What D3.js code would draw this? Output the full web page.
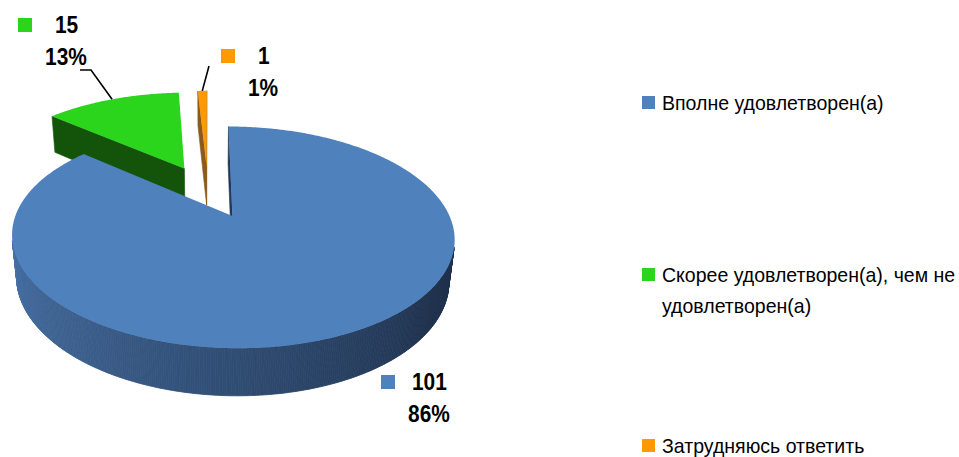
<!DOCTYPE html>
<html>
<head>
<meta charset="utf-8">
<script src="https://cdn.jsdelivr.net/npm/d3@7"></script>
<style>
  body { margin: 0; background: #ffffff; }
  svg { display: block; }
  .narrow { font-family: "Liberation Sans Narrow", "Arial Narrow", "Liberation Sans", Arial, sans-serif; }
</style>
</head>
<body>
<svg id="chart" width="959" height="457"></svg>
<script>
// Survey answers and counts
const categories = [
  "Вполне удовлетворен(а)",
  "Скорее удовлетворен(а), чем не удовлетворен(а)",
  "Затрудняюсь ответить"
];
const values = [101, 15, 1];

// Slice colours: top face, side shading (light -> dark), radial face
const topColors   = ["#4f81bd", "#2bd51b", "#ff9900"];
const sideLight   = ["#4b77ae", "#1a6410", "#a86a1c"];
const sideMid     = ["#2f4c72", "#14540a", "#8b5a1a"];
const sideDark    = ["#1f314d", "#0f4607", "#6e4612"];
const faceColors  = ["#22385a", "#14540a", "#8b5a1a"];

// Legend text, split into lines
const legendLines = [
  ["Вполне удовлетворен(а)"],
  ["Скорее удовлетворен(а), чем не", "удовлетворен(а)"],
  ["Затрудняюсь ответить"]
];

const svg = d3.select("#chart");
const total = d3.sum(values);
const pct = d3.format(".0%");

// ---- 3D projection of the pie (radius 1, top face at Y = 0) ----
const view = { tilt: 28 * Math.PI / 180, dist: 4.8, focal: 995, cx: 208, cy: 191 };
const explode = 0.27;
const thickness = 0.225;
const sT = Math.sin(view.tilt), cT = Math.cos(view.tilt);
const camPos = { x: 0, y: view.dist * sT, z: view.dist * cT };

function project(X, Y, Z) {
  const yc = Y * cT - Z * sT;
  const depth = view.dist - Y * sT - Z * cT;
  return [view.cx + view.focal * X / depth, view.cy - view.focal * yc / depth];
}

const arcs = d3.pie().sort(null).value(d => d)(values)
  .map((a, i) => {
    const mid = (a.startAngle + a.endAngle) / 2;
    return { ...a, i, mid, ox: explode * Math.sin(mid), oz: -explode * Math.cos(mid) };
  });

// world point on a slice
function pt(a, ang, r, Y) {
  return project(a.ox + r * Math.sin(ang), Y, a.oz - r * Math.cos(ang));
}
function arcAngles(a0, a1) {
  const n = Math.max(2, Math.ceil((a1 - a0) / (Math.PI / 360)));
  return d3.range(n + 1).map(k => a0 + (a1 - a0) * k / n);
}
const line = d3.line();

const pieG = svg.append("g");

// farther slices first
const order = arcs.slice().sort((p, q) => p.oz - q.oz);

order.forEach(a => {
  const g = pieG.append("g");
  const i = a.i;
  const apexTop = pt(a, 0, 0, 0), apexBot = pt(a, 0, 0, -thickness);

  // radial side faces
  [[a.startAngle, -1], [a.endAngle, 1]].forEach(([ang, sgn]) => {
    const nAng = ang + sgn * Math.PI / 2;
    const nx = Math.sin(nAng), nz = -Math.cos(nAng);
    const px = a.ox + 0.5 * Math.sin(ang), pz = a.oz - 0.5 * Math.cos(ang);
    const vis = nx * (camPos.x - px) + nz * (camPos.z - pz);
    if (vis > 0) {
      const rimT = pt(a, ang, 1, 0), rimB = pt(a, ang, 1, -thickness);
      g.append("path")
        .attr("d", line([apexTop, rimT, rimB, apexBot]) + "Z")
        .attr("fill", faceColors[i])
        .attr("stroke", faceColors[i]).attr("stroke-width", 0.6).attr("stroke-linejoin", "round");
    }
  });

  // outer curved wall, shaded by facing direction
  const shade = d3.scaleLinear()
    .domain([1.5 * Math.PI, Math.PI, 0.7 * Math.PI, 0.5 * Math.PI])
    .range([sideLight[i], sideMid[i], sideDark[i], sideDark[i]])
    .interpolate(d3.interpolateRgb)
    .clamp(true);
  const angs = arcAngles(a.startAngle, a.endAngle);
  for (let k = 0; k < angs.length - 1; k++) {
    const a0 = angs[k], a1 = angs[k + 1], am = (a0 + a1) / 2;
    const nx = Math.sin(am), nz = -Math.cos(am);
    const px = a.ox + nx, pz = a.oz + nz;
    const vis = nx * (camPos.x - px) + nz * (camPos.z - pz);
    if (vis <= 0) continue;
    const c = shade(am);
    g.append("path")
      .attr("d", line([pt(a, a0, 1, 0), pt(a, a1, 1, 0), pt(a, a1, 1, -thickness), pt(a, a0, 1, -thickness)]) + "Z")
      .attr("fill", c).attr("stroke", c).attr("stroke-width", 0.8);
  }

  // top face
  const topPts = [apexTop].concat(angs.map(ang => pt(a, ang, 1, 0)));
  g.append("path")
    .attr("d", line(topPts) + "Z")
    .attr("fill", topColors[i]);
});

// ---- data labels ----
const labelPos = [
  { mx: 381, my: 375 },   // 101
  { mx: 18,  my: 18 },    // 15
  { mx: 221, my: 49 }     // 1
];
const labelValueDx = [31, 37, 37];
const labelPctDx   = [48, 48, 42];
const labelScaleX = 0.87;

const labG = svg.append("g").attr("class", "narrow");
arcs.forEach((a, i) => {
  const p = labelPos[i];
  labG.append("rect").attr("x", p.mx).attr("y", p.my).attr("width", 14).attr("height", 14)
    .attr("fill", topColors[i]);
  labG.append("text")
    .attr("transform", `translate(${p.mx + labelValueDx[i]},${p.my + 15}) scale(${labelScaleX},1)`)
    .attr("font-size", 24).attr("font-weight", "bold").attr("fill", "#000")
    .text(values[i]);
  labG.append("text")
    .attr("transform", `translate(${p.mx + labelPctDx[i]},${p.my + 47}) scale(${labelScaleX},1)`)
    .attr("text-anchor", "middle")
    .attr("font-size", 24).attr("font-weight", "bold").attr("fill", "#000")
    .text(pct(values[i] / total));
});

// leader lines from the far rim of the small slices
const leaders = [
  { i: 1, via: [[80, 70], [91, 70]] },
  { i: 2, via: [[209, 66]] }
];
leaders.forEach(l => {
  const a = arcs[l.i];
  const rim = pt(a, a.mid, 1, 0);
  svg.append("path")
    .attr("d", line(l.via.concat([rim])))
    .attr("fill", "none").attr("stroke", "#000").attr("stroke-width", 1.6);
});

// ---- legend ----
const legendY = [110, 282, 453];
const legendScaleX = 0.93;
const legG = svg.append("g").attr("class", "narrow");
categories.forEach((c, i) => {
  const y = legendY[i];
  legG.append("rect").attr("x", 642).attr("y", y - 14).attr("width", 13).attr("height", 13)
    .attr("fill", topColors[i]);
  const t = legG.append("text")
    .attr("transform", `translate(662,${y}) scale(${legendScaleX},1)`)
    .attr("font-size", 21).attr("fill", "#000");
  legendLines[i].forEach((ln, k) => {
    t.append("tspan").attr("x", 0).attr("dy", k === 0 ? 0 : 31).text(ln);
  });
});
</script>
</body>
</html>
